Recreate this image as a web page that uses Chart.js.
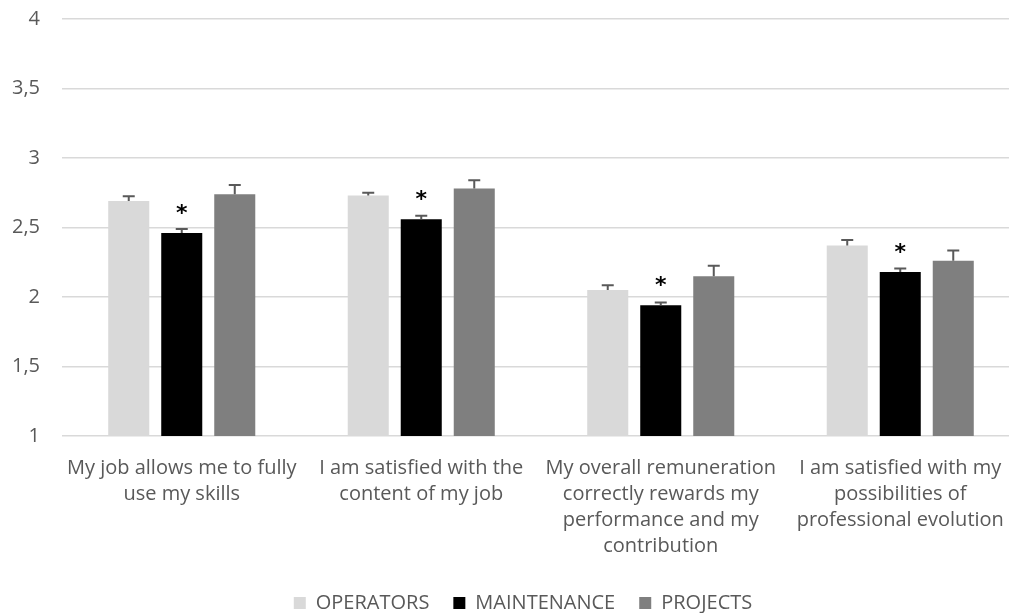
<!DOCTYPE html>
<html>
<head>
<meta charset="utf-8">
<script src="https://cdn.jsdelivr.net/npm/chart.js@4/dist/chart.umd.min.js"></script>
<style>
    html, body { margin: 0; padding: 0; background: #fff; overflow: hidden; }
    #wrap { width: 1021px; height: 638px; margin-top: -15px; }
</style>
</head>
<body>
<div id="wrap"><canvas id="myChart"></canvas></div>
<script>
const categories = [
    ['My job allows me to fully', 'use my skills'],
    ['I am satisfied with the', 'content of my job'],
    ['My overall remuneration', 'correctly rewards my', 'performance and my', 'contribution'],
    ['I am satisfied with my', 'possibilities of', 'professional evolution']
];
const operators = [2.69, 2.73, 2.05, 2.37];
const maintenance = [2.46, 2.56, 1.94, 2.18];
const projects = [2.74, 2.78, 2.15, 2.26];
const operatorsErr = [0.035, 0.02, 0.035, 0.04];
const maintenanceErr = [0.03, 0.025, 0.02, 0.025];
const projectsErr = [0.065, 0.06, 0.075, 0.075];
const maintenanceStars = [true, true, true, true];

const font = "'Open Sans', sans-serif";

// error bars (upper only) and asterisks
const errorBars = {
    id: 'errorBars',
    afterDatasetsDraw(chart) {
        const ctx = chart.ctx;
        const yScale = chart.scales.y;
        chart.data.datasets.forEach((ds, i) => {
            const meta = chart.getDatasetMeta(i);
            meta.data.forEach((bar, j) => {
                const top = yScale.getPixelForValue(ds.data[j] + ds.errors[j]);
                ctx.save();
                ctx.strokeStyle = '#595959';
                ctx.lineWidth = 2;
                ctx.beginPath();
                ctx.moveTo(bar.x, bar.y);
                ctx.lineTo(bar.x, top);
                ctx.moveTo(bar.x - 6, top);
                ctx.lineTo(bar.x + 6, top);
                ctx.stroke();
                if (ds.stars && ds.stars[j]) {
                    ctx.fillStyle = '#000';
                    ctx.font = "bold 22px 'DejaVu Sans', sans-serif";
                    ctx.textAlign = 'center';
                    ctx.textBaseline = 'middle';
                    ctx.fillText('*', bar.x, bar.y - 19);
                }
                ctx.restore();
            });
        });
    }
};

// legend sits a bit right of centre in the original
const legendShift = {
    id: 'legendShift',
    afterLayout(chart) {
        chart.legend.left += 13;
        chart.legend.right += 13;
    }
};

let ctx = document.getElementById('myChart').getContext('2d');

new Chart(ctx, {
    type: 'bar',
    data: {
        labels: categories,
        datasets: [{
            label: 'OPERATORS',
            data: operators,
            errors: operatorsErr,
            backgroundColor: '#d9d9d9'
        }, {
            label: 'MAINTENANCE',
            data: maintenance,
            errors: maintenanceErr,
            stars: maintenanceStars,
            backgroundColor: '#000000'
        }, {
            label: 'PROJECTS',
            data: projects,
            errors: projectsErr,
            backgroundColor: '#7f7f7f'
        }]
    },
    options: {
        responsive: true,
        maintainAspectRatio: false,
        animation: false,
        categoryPercentage: 0.664,
        barPercentage: 0.774,
        layout: { padding: { top: 0, right: 1, bottom: 0, left: 0 } },
        plugins: {
            tooltip: { enabled: false },
            legend: {
                position: 'bottom',
                labels: {
                    color: '#595959',
                    font: { family: font, size: 20 },
                    boxWidth: 12,
                    boxHeight: 12,
                    padding: 24
                }
            }
        },
        scales: {
            x: {
                grid: { display: false },
                border: { display: false },
                afterFit(scale) { scale.height -= 1; },
                ticks: {
                    color: '#595959',
                    font: { family: font, size: 20, lineHeight: 1.3 },
                    padding: 11,
                    maxRotation: 0,
                    autoSkip: false
                }
            },
            y: {
                min: 1,
                max: 4,
                afterFit(scale) { scale.width = 62; },
                border: { display: false },
                grid: { color: '#d9d9d9', lineWidth: 1.5, drawTicks: false },
                ticks: {
                    stepSize: 0.5,
                    padding: 22,
                    color: '#595959',
                    font: { family: font, size: 20 },
                    callback: (v) => String(v).replace('.', ',')
                }
            }
        }
    },
    plugins: [errorBars, legendShift]
});
</script>
</body>
</html>
